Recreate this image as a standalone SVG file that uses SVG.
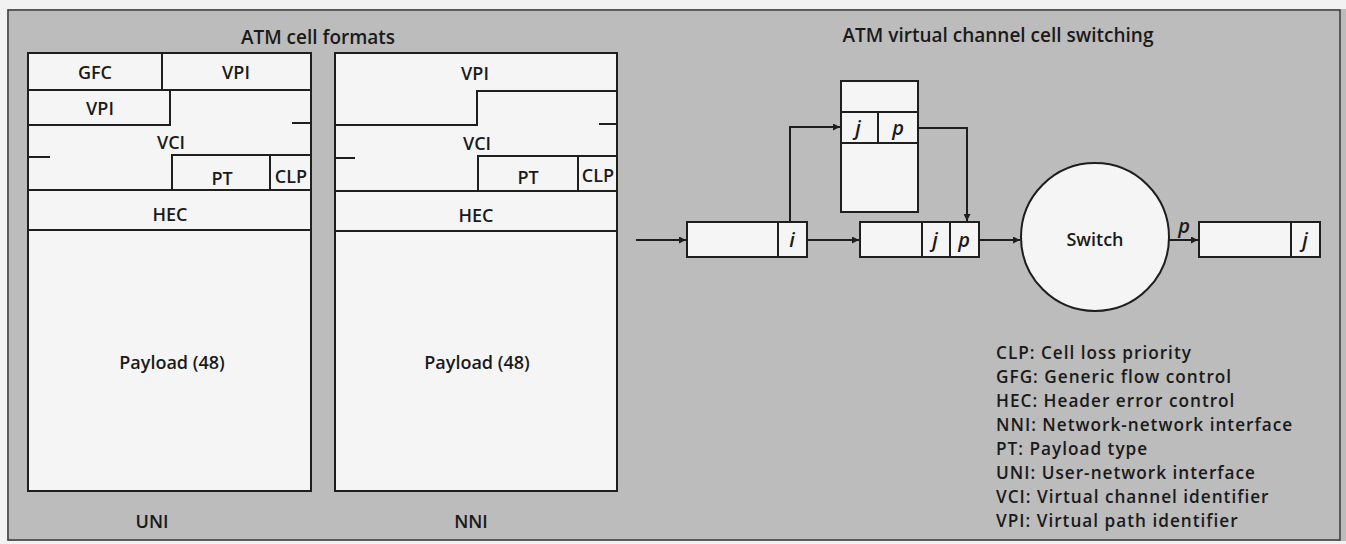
<svg xmlns="http://www.w3.org/2000/svg" width="1346" height="544" viewBox="0 0 1346 544">
<defs>
<marker id="ah" viewBox="0 0 10 10" refX="10" refY="5" markerWidth="10" markerHeight="7" markerUnits="userSpaceOnUse" orient="auto">
<path d="M0,0 L10,5 L0,10 z" fill="#1e1e1e"/>
</marker>
<style>
.bg{fill:#bcbcbc}
.frame{fill:none;stroke:#3a3a3a;stroke-width:1.5}
.cell{fill:#f5f5f5;stroke:#1e1e1e;stroke-width:2}
.ln{fill:none;stroke:#1e1e1e;stroke-width:2}
.t{font-family:"Open Sans","Liberation Sans",sans-serif;font-weight:600;font-size:18px;fill:#1a1a1a;text-anchor:middle}
.h{font-family:"Open Sans","Liberation Sans",sans-serif;font-weight:600;font-size:19px;fill:#1a1a1a;text-anchor:middle}
.ti{font-family:"Open Sans","Liberation Sans",sans-serif;font-weight:600;font-style:italic;font-size:20px;fill:#1a1a1a;text-anchor:middle}
.lg{font-family:"Open Sans","Liberation Sans",sans-serif;font-weight:600;font-size:17.2px;letter-spacing:1px;fill:#1a1a1a}
.cn{fill:none;stroke:#1e1e1e;stroke-width:2;marker-end:url(#ah)}
</style>
</defs>
<rect class="bg" x="0" y="0" width="1346" height="544"/>
<rect x="0" y="0" width="1346" height="9" fill="#f2f2f2"/>
<rect x="0" y="0" width="7" height="544" fill="#f2f2f2"/>
<rect x="0" y="541" width="1346" height="3" fill="#f2f2f2"/>
<rect class="frame" x="8" y="10" width="1332" height="530"/>

<text class="h" x="318" y="44">ATM cell formats</text>
<text class="h" x="998" y="42">ATM virtual channel cell switching</text>

<g id="uni">
<rect class="cell" x="28" y="53" width="283" height="438"/>
<path class="ln" d="M162,53 V90 M28,90 H311 M170,90 V125 H28 M292,123 H311 M28,157 H50 M172,190 V155 H311 M270,155 V190 M28,190 H311 M28,230 H311"/>
<text class="t" x="95" y="79">GFC</text>
<text class="t" x="236" y="79">VPI</text>
<text class="t" x="100" y="115">VPI</text>
<text class="t" x="171" y="149">VCI</text>
<text class="t" x="222" y="185">PT</text>
<text class="t" x="291" y="183">CLP</text>
<text class="t" x="170" y="221">HEC</text>
<text class="t" x="172" y="369">Payload (48)</text>
<text class="t" x="152" y="528">UNI</text>
</g>

<g id="nni">
<rect class="cell" x="335" y="53" width="282" height="438"/>
<path class="ln" d="M335,125 H477 V91 H617 M599,124 H617 M335,158 H355 M478,191 V156 H617 M578,156 V191 M335,191 H617 M335,231 H617"/>
<text class="t" x="475" y="80">VPI</text>
<text class="t" x="477" y="150">VCI</text>
<text class="t" x="528" y="184">PT</text>
<text class="t" x="598" y="182">CLP</text>
<text class="t" x="476" y="222">HEC</text>
<text class="t" x="477" y="369">Payload (48)</text>
<text class="t" x="471" y="528">NNI</text>
</g>

<g id="input-cell">
<rect class="cell" x="687" y="222" width="120" height="35"/>
<path class="ln" d="M778,222 V257"/>
<text class="ti" x="792" y="247">i</text>
</g>

<g id="table">
<rect class="cell" x="841" y="81" width="77" height="131"/>
<path class="ln" d="M841,112 H918 M841,143 H918 M878,112 V143"/>
<text class="ti" x="858" y="135">j</text>
<text class="ti" x="898" y="135">p</text>
</g>

<g id="relabeled-cell">
<rect class="cell" x="860" y="222" width="119" height="35"/>
<path class="ln" d="M922,222 V257 M950,222 V257"/>
<text class="ti" x="935" y="247">j</text>
<text class="ti" x="964" y="247">p</text>
</g>

<g id="switch">
<circle class="cell" cx="1095" cy="237" r="74"/>
<text class="t" x="1095" y="246">Switch</text>
</g>

<g id="output-cell">
<rect class="cell" x="1199" y="222" width="121" height="35"/>
<path class="ln" d="M1291,222 V257"/>
<text class="ti" x="1305" y="247">j</text>
</g>

<g id="connectors">
<path class="cn" d="M636,240 H686"/>
<path class="cn" d="M807,240 H859"/>
<path class="cn" d="M790,222 V127 H840"/>
<path class="cn" d="M918,128 H967 V221"/>
<path class="cn" d="M979,240 H1020"/>
<path class="cn" d="M1169,240 H1198"/>
<text class="ti" x="1184" y="233">p</text>
</g>

<g id="legend">
<text class="lg" x="996" y="359">CLP: Cell loss priority</text>
<text class="lg" x="996" y="383">GFG: Generic flow control</text>
<text class="lg" x="996" y="407">HEC: Header error control</text>
<text class="lg" x="996" y="431">NNI: Network-network interface</text>
<text class="lg" x="996" y="455">PT: Payload type</text>
<text class="lg" x="996" y="479">UNI: User-network interface</text>
<text class="lg" x="996" y="503">VCI: Virtual channel identifier</text>
<text class="lg" x="996" y="527">VPI: Virtual path identifier</text>
</g>
</svg>
